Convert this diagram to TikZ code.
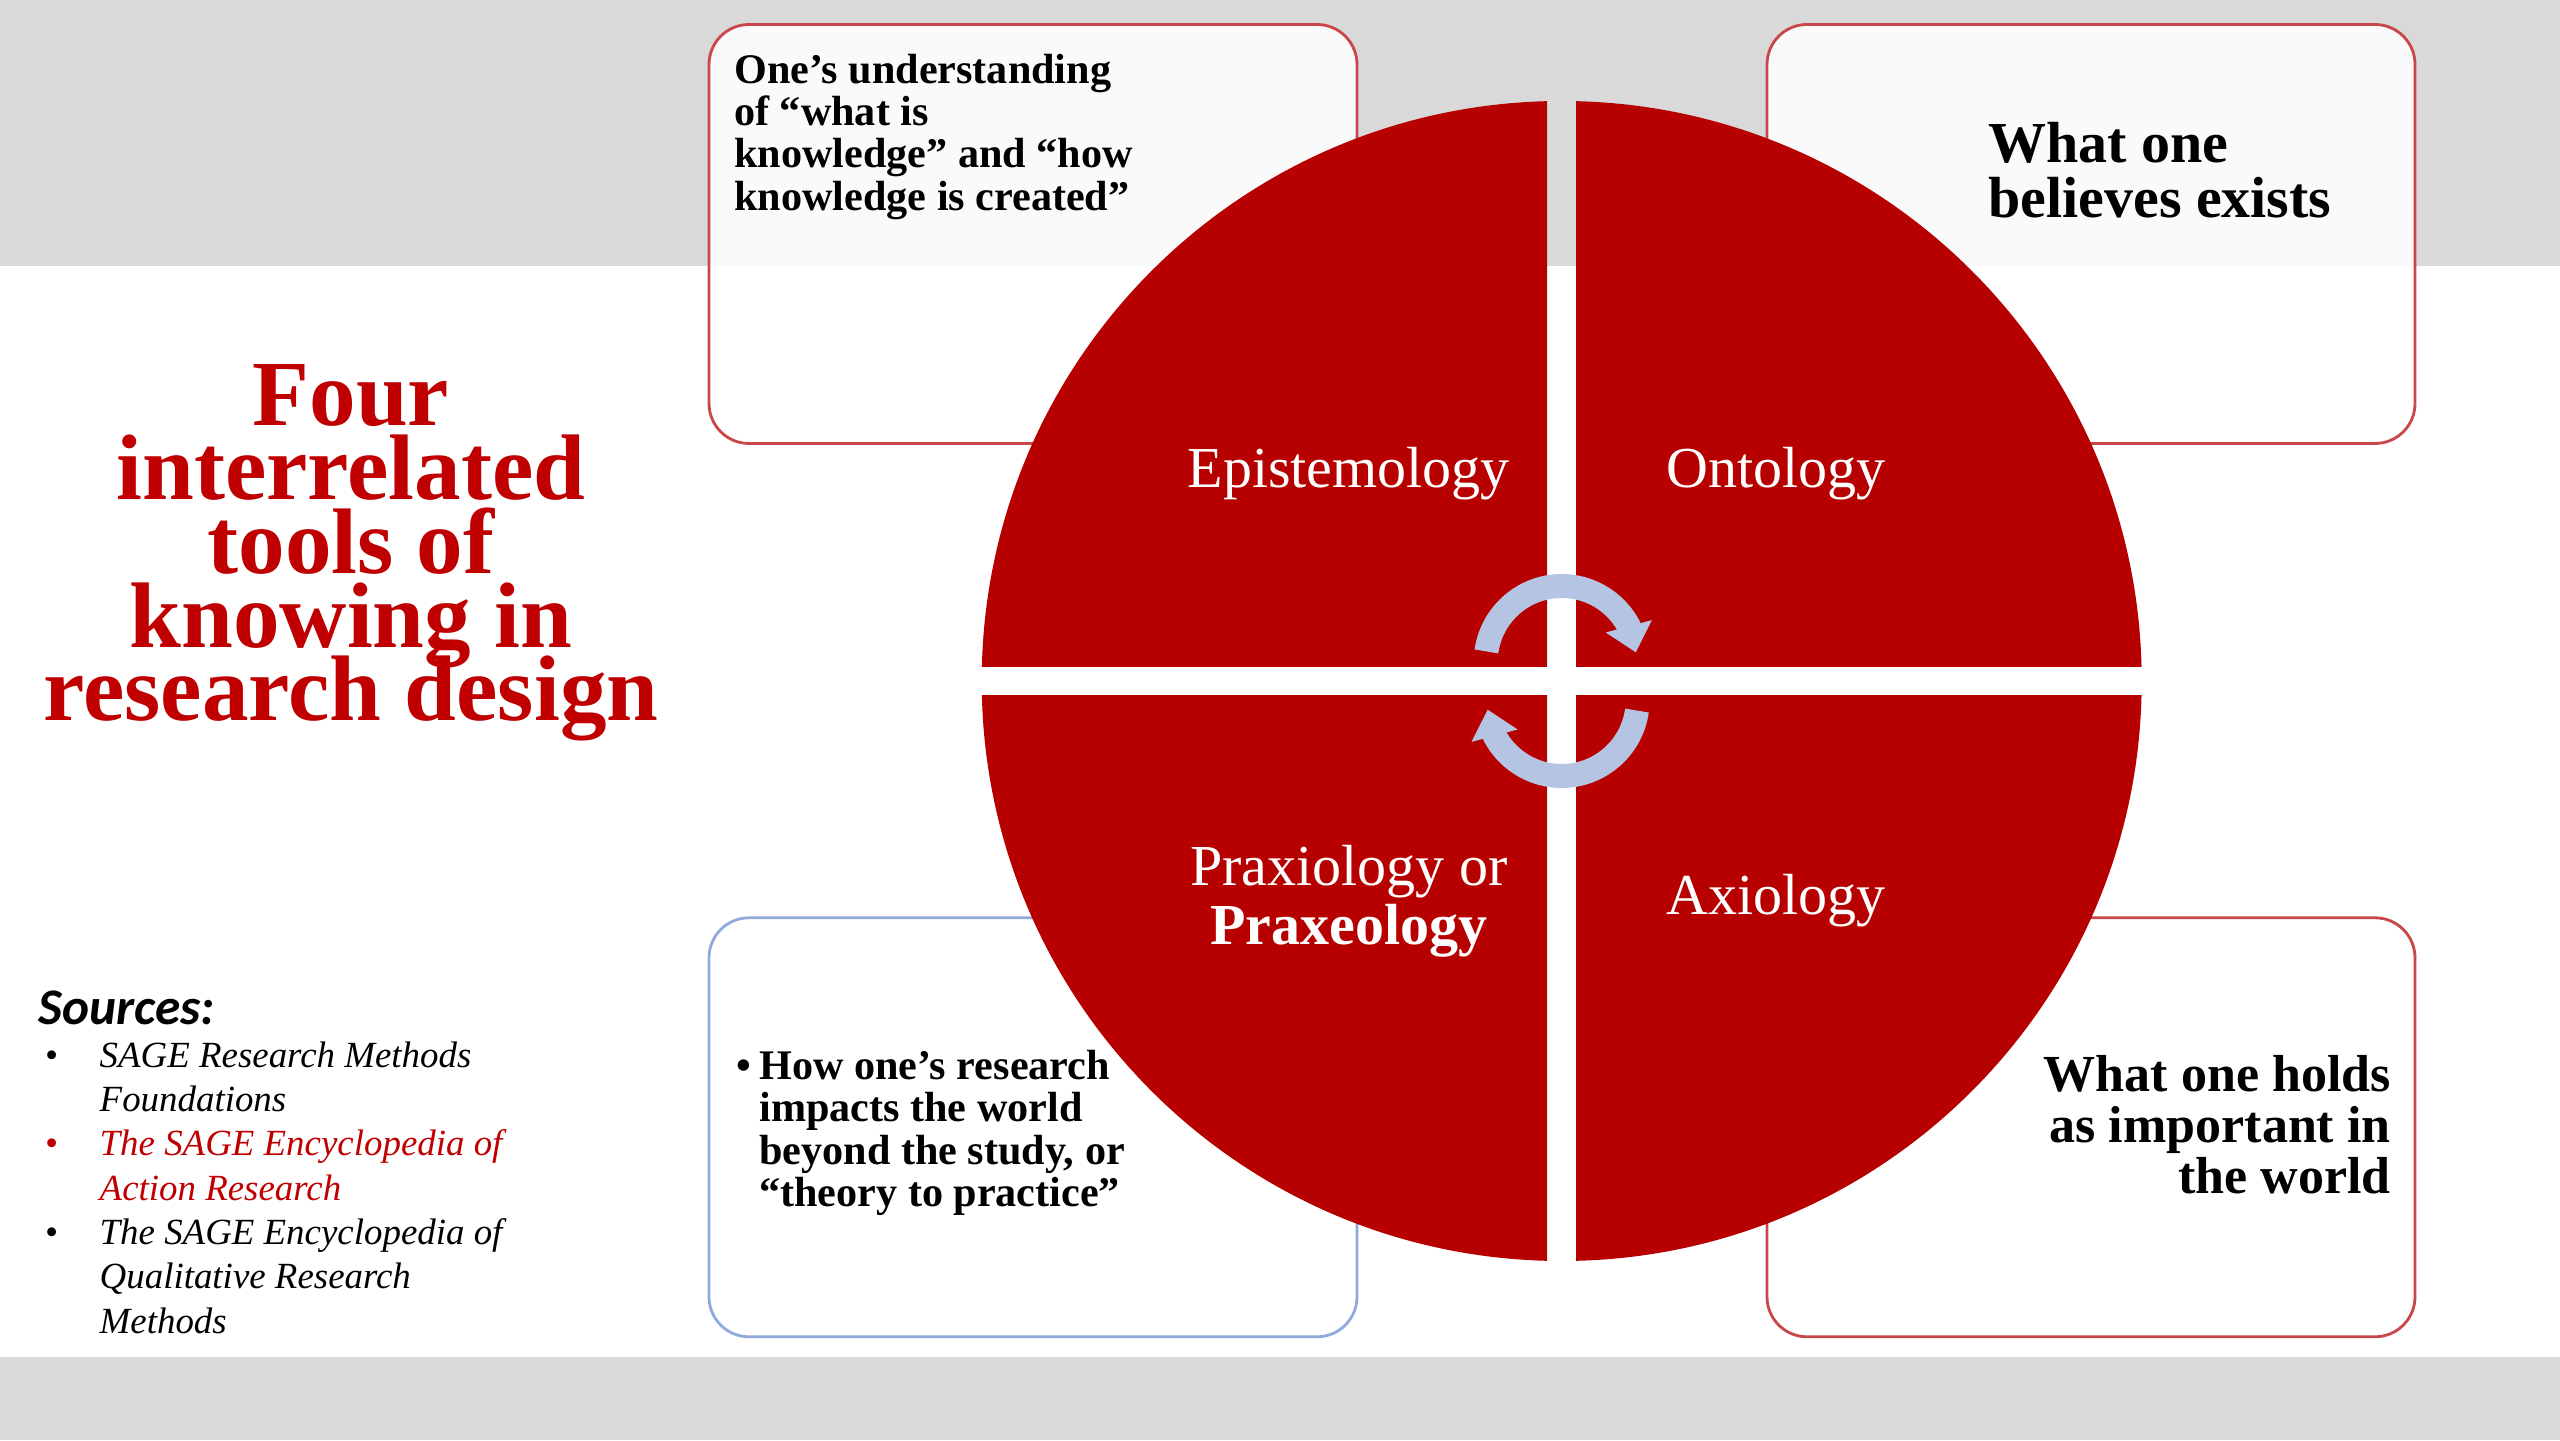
\documentclass[tikz,border=0pt]{standalone}
\usepackage{fontspec}
\setmainfont{Liberation Serif}
\newfontfamily\srcheadfont{Carlito}
\usetikzlibrary{arrows.meta,positioning}
\definecolor{quadred}{HTML}{B70000}
\definecolor{titlered}{HTML}{C00000}
\definecolor{boxred}{HTML}{C9474A}
\definecolor{boxblue}{HTML}{8FAADC}
\definecolor{bandgray}{HTML}{D9D9D9}
\definecolor{cycleblue}{HTML}{B4C4E2}
\lineskiplimit=-50pt

\begin{document}
\begin{tikzpicture}[
    infobox/.style={draw=boxred, line width=0.8pt, rounded corners=0.4cm, fill=white, fill opacity=0.88,
      minimum width=6.48cm, minimum height=4.19cm, inner sep=0pt},
    boxtext/.style={inner sep=0pt, text=black},
    quadlabel/.style={text=white, font=\fontsize{16.5}{16.7}\selectfont, align=center, inner sep=0pt},
    cyclearrow/.style={draw=cycleblue, line width=0.24cm, -{Triangle[width=0.46cm,length=0.27cm]}}
  ]
  \useasboundingbox (0,0) rectangle (25.6,14.4);
  \fill[white] (0,0) rectangle (25.6,14.4);
  \fill[bandgray] (0,11.74) rectangle (25.6,14.4);
  \fill[bandgray] (0,0) rectangle (25.6,0.83);

  % the four boxes behind the pie
  \node[infobox] (epibox) at (10.33,12.06) {};
  \node[infobox] (ontbox) at (20.91,12.06) {};
  \node[infobox, draw=boxblue] (praxbox) at (10.33,3.127) {};
  \node[infobox] (axbox) at (20.91,3.127) {};

  % pie in four pieces
  \coordinate (hub) at (15.617,7.59);
  \foreach \sx/\sy in {1/1,-1/1,-1/-1,1/-1} {
    \begin{scope}
      \clip ([shift={(\sx*0.145,\sy*0.145)}]hub) rectangle ++(\sx*6,\sy*6);
      \fill[quadred] (hub) circle (5.8);
    \end{scope}
  }

  \node[quadlabel] (epi) at ([shift={(-2.13,2.07)}]hub) {Epistemology};
  \node[quadlabel] (onto) at ([shift={(2.14,2.07)}]hub) {Ontology};
  \node[quadlabel] (praxi) at ([shift={(-2.13,-2.20)}]hub) {Praxiology or\\\textbf{Praxeology}};
  \node[quadlabel] (axio) at ([shift={(2.14,-2.20)}]hub) {Axiology};

  % cycle arrows
  \coordinate (cyctop) at ([yshift=0.19cm]hub);
  \coordinate (cycbot) at ([yshift=-0.19cm]hub);
  \draw[cyclearrow] ([shift={(172:0.76)}]cyctop) arc[start angle=172, end angle=28, radius=0.76] -- ++(-75:0.27);
  \draw[cyclearrow] ([shift={(-8:0.76)}]cycbot) arc[start angle=-8, end angle=-152, radius=0.76] -- ++(105:0.27);

  % box texts
  \node[boxtext, anchor=north west, align=left, font=\bfseries\fontsize{12}{12}\selectfont] (epitext)
    at ([shift={(0.26,-0.305)}]epibox.north west)
    {One’s understanding\\of “what is\\knowledge” and “how\\knowledge is created”};
  \node[boxtext, anchor=north west, align=left, font=\bfseries\fontsize{16.5}{15.6}\selectfont] (onttext)
    at ([shift={(2.22,-0.985)}]ontbox.north west)
    {What one\\believes exists};
  \node[boxtext, anchor=north west, align=left, font=\bfseries\fontsize{12}{12}\selectfont] (praxtext)
    at ([shift={(0.51,-1.334)}]praxbox.north west)
    {\llap{\textbullet\hspace{0.08cm}}How one’s research\\impacts the world\\beyond the study, or\\“theory to practice”};
  \node[boxtext, anchor=north east, align=right, font=\bfseries\fontsize{14.8}{14.5}\selectfont] (axtext)
    at ([shift={(-0.25,-1.38)}]axbox.north east)
    {What one holds\\as important in\\the world};

  % title
  \node[text=titlered, align=center, font=\bfseries\fontsize{26.5}{21}\selectfont] (title) at (3.51,8.87)
    {Four\\interrelated\\tools of\\knowing in\\research design};

  % sources
  \node[anchor=north west, inner sep=0pt, font=\srcheadfont\bfseries\itshape\fontsize{14.6}{16}\selectfont] (srchead)
    at (0.375,4.50) {Sources:};
  \node[anchor=north west, inner sep=0pt, align=left, font=\itshape\fontsize{10.5}{12.6}\selectfont] (srcitems)
    at (0.99,3.99)
    {\llap{\textbullet\hspace{0.42cm}}SAGE Research Methods\\
     Foundations\\
     \textcolor{titlered}{\llap{\textbullet\hspace{0.42cm}}The SAGE Encyclopedia of}\\
     \textcolor{titlered}{Action Research}\\
     \llap{\textbullet\hspace{0.42cm}}The SAGE Encyclopedia of\\
     Qualitative Research\\
     Methods};
\end{tikzpicture}
\end{document}
